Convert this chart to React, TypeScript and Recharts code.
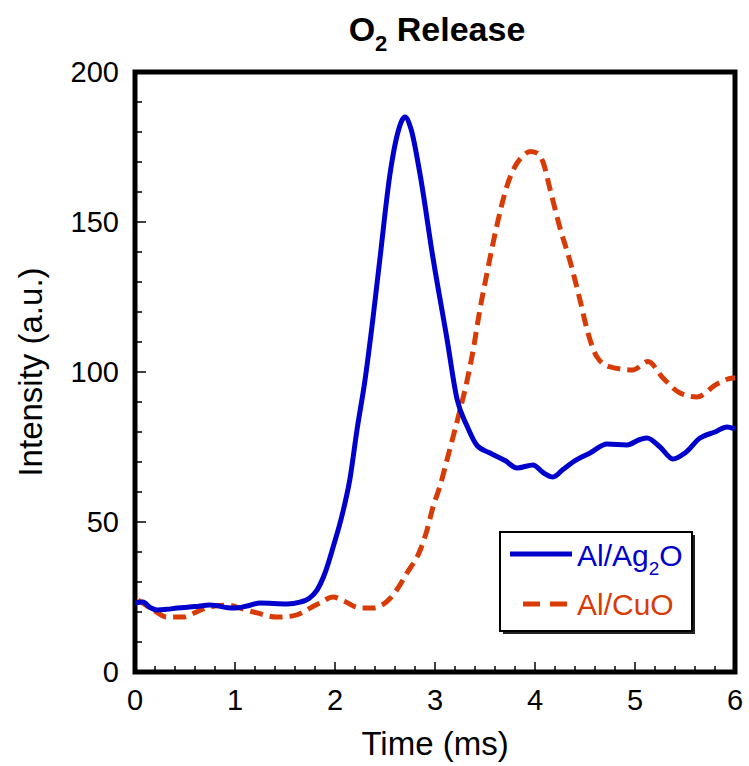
import { LineChart, Line, XAxis, YAxis, ReferenceArea } from 'recharts';

// Al/Ag2O trace (solid blue)
const agTime = [
  0, 0.08, 0.15, 0.22, 0.32, 0.42, 0.6, 0.75, 0.98, 1.12, 1.25, 1.52, 1.65, 1.74, 1.82, 1.9,
  1.98, 2.08, 2.15, 2.22, 2.3, 2.38, 2.45, 2.55, 2.63, 2.7, 2.76, 2.85, 2.98, 3.12, 3.22, 3.32,
  3.42, 3.55, 3.7, 3.82, 3.98, 4.08, 4.18, 4.28, 4.38, 4.55, 4.72, 4.92, 5.05, 5.12, 5.25, 5.38,
  5.5, 5.65, 5.8, 5.92, 6.0,
];
const agIntensity = [
  23, 23.3, 21.5, 20.7, 20.9, 21.3, 21.8, 22.3, 21.3, 22, 23, 22.7, 23.3, 24.5, 27.3, 33,
  41.5, 53.5, 64.5, 80.7, 97.3, 118, 138, 166, 180, 185, 181, 166, 138, 111, 91, 82,
  75.5, 73, 70.5, 68, 69, 66.5, 65, 67.5, 70, 73, 76, 75.7, 77.5, 78, 75, 71,
  73, 78, 80, 81.7, 81,
];

// Al/CuO trace (dashed orange)
const cuTime = [
  0.03, 0.12, 0.18, 0.32, 0.48, 0.58, 0.68, 0.8, 0.92, 1.05, 1.22, 1.42, 1.58, 1.68, 1.75, 1.85,
  1.98, 2.1, 2.25, 2.38, 2.47, 2.55, 2.62, 2.72, 2.85, 2.92, 2.98, 3.05, 3.12, 3.18, 3.25, 3.32,
  3.38, 3.45, 3.52, 3.62, 3.72, 3.8, 3.88, 3.95, 4.02, 4.08, 4.15, 4.25, 4.35, 4.45, 4.53, 4.62,
  4.75, 4.98, 5.13, 5.28, 5.45, 5.62, 5.82, 5.98, 6.0,
];
const cuIntensity = [
  24, 22, 20.7, 18.3, 18.3, 19.5, 21, 22, 22.3, 21.3, 19.7, 18.3, 18.7, 19.9, 21.3, 23,
  25, 23.5, 21.3, 21.3, 22.3, 24.5, 27.5, 33, 40.5, 47.3, 55, 62, 70.7, 78.3, 87.3, 97,
  107, 121, 133, 149, 162, 168.5, 172, 173.5, 173, 170, 161, 148, 137, 124, 113, 105,
  101.7, 100.7, 103.5, 98, 93, 91.7, 96, 98, 98,
];

const xMajorTicks = [0, 1, 2, 3, 4, 5, 6];
const yMajorTicks = [0, 50, 100, 150, 200];

const xTicks = Array.from({ length: 31 }, (_, i) => Math.round(i * 2) / 10);
const yTicks = Array.from({ length: 21 }, (_, i) => i * 10);

const agData = agTime.map((t, i) => ({ t, v: agIntensity[i] }));
const cuData = cuTime.map((t, i) => ({ t, v: cuIntensity[i] }));

const BLUE = '#0000CC';
const RED = '#D93B06';

const XTick = (props: any) => {
  const { x, y, payload } = props;
  const major = xMajorTicks.includes(payload.value);
  return (
    <g>
      <line x1={x} x2={x} y1={y} y2={y - (major ? 10 : 6)} stroke="#000" strokeWidth={1.5} />
      {major && (
        <text x={x} y={y + 38} textAnchor="middle" fontSize={29} fill="#000">
          {payload.value}
        </text>
      )}
    </g>
  );
};

const YTick = (props: any) => {
  const { x, y, payload } = props;
  const major = yMajorTicks.includes(payload.value);
  return (
    <g>
      <line x1={x} x2={x + (major ? 11 : 7)} y1={y} y2={y} stroke="#000" strokeWidth={1.5} />
      {major && (
        <text x={x - 16} y={y + 10} textAnchor="end" fontSize={29} fill="#000">
          {payload.value}
        </text>
      )}
    </g>
  );
};

export default function App() {
  return (
    <div
      style={{
        position: 'absolute',
        left: 0,
        top: 0,
        width: 749,
        height: 766,
        background: '#fff',
        fontFamily: '"Liberation Sans", Arial, sans-serif',
      }}
    >
      <LineChart width={749} height={766} margin={{ top: 72, right: 14, left: 8, bottom: 0 }}>
        <XAxis
          dataKey="t"
          type="number"
          domain={[0, 6]}
          ticks={xTicks}
          interval={0}
          tick={<XTick />}
          tickLine={false}
          axisLine={false}
          tickSize={0}
          tickMargin={0}
          height={94}
          allowDataOverflow
          label={{ value: 'Time (ms)', position: 'insideBottom', offset: 11, fontSize: 33, fill: '#000' }}
        />
        <YAxis
          type="number"
          domain={[0, 200]}
          ticks={yTicks}
          interval={0}
          tick={<YTick />}
          tickLine={false}
          axisLine={false}
          tickSize={0}
          tickMargin={0}
          width={127}
          allowDataOverflow
          label={{
            value: 'Intensity (a.u.)',
            angle: -90,
            position: 'insideLeft',
            offset: 22,
            fontSize: 33,
            fill: '#000',
            style: { textAnchor: 'middle' },
          }}
        />
        <Line
          data={cuData}
          dataKey="v"
          type="monotone"
          stroke={RED}
          strokeWidth={5}
          strokeDasharray="13 7"
          dot={false}
          isAnimationActive={false}
        />
        <Line
          data={agData}
          dataKey="v"
          type="monotone"
          stroke={BLUE}
          strokeWidth={5}
          dot={false}
          isAnimationActive={false}
        />
        <ReferenceArea
          x1={0}
          x2={6}
          y1={0}
          y2={200}
          fill="none"
          fillOpacity={0}
          stroke="#000"
          strokeWidth={5}
          ifOverflow="visible"
        />
      </LineChart>
      <svg
        width={749}
        height={766}
        style={{ position: 'absolute', left: 0, top: 0, pointerEvents: 'none' }}
      >
        <text x={437} y={41} textAnchor="middle" fontSize={34} fontWeight="bold" fill="#000">
          O
          <tspan fontSize={22} dy={10}>2</tspan>
          <tspan dy={-10}> Release</tspan>
        </text>
        <rect x={503} y={535} width={192} height={99} fill="#222" />
        <rect x={500} y={532} width={192} height={99} fill="#fff" stroke="#000" strokeWidth={2} />
        <line x1={510} x2={572} y1={554} y2={554} stroke={BLUE} strokeWidth={5} />
        <text x={577} y={566} fontSize={30} fill={BLUE}>
          Al/Ag
          <tspan fontSize={19} dy={9}>2</tspan>
          <tspan dy={-9}>O</tspan>
        </text>
        <line
          x1={523}
          x2={569}
          y1={604}
          y2={604}
          stroke={RED}
          strokeWidth={5}
          strokeDasharray="17 10"
        />
        <text x={577} y={615} fontSize={30} fill={RED}>
          Al/CuO
        </text>
      </svg>
    </div>
  );
}
